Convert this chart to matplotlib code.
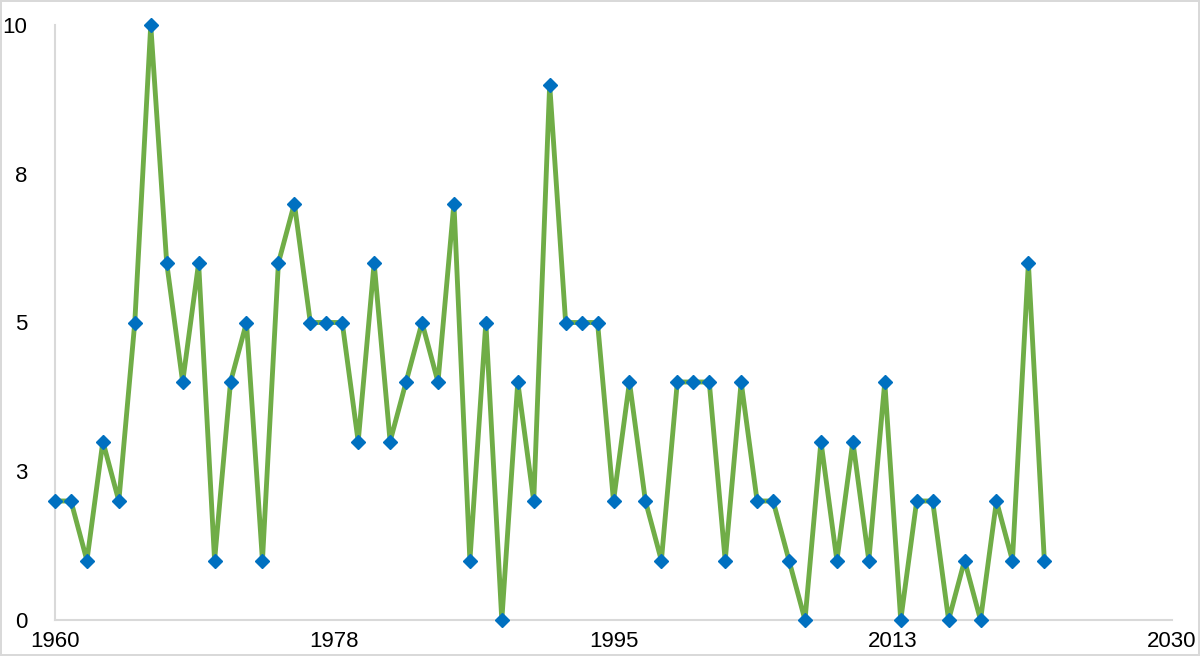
import matplotlib
matplotlib.use("Agg")
import matplotlib.pyplot as plt

years = list(range(1960, 2023))
values = [2, 2, 1, 3, 2, 5, 10, 6, 4, 6,
          1, 4, 5, 1, 6, 7, 5, 5, 5, 3,
          6, 3, 4, 5, 4, 7, 1, 5, 0, 4,
          2, 9, 5, 5, 5, 2, 4, 2, 1, 4,
          4, 4, 1, 4, 2, 2, 1, 0, 3, 1,
          3, 1, 4, 0, 2, 2, 0, 1, 0, 2,
          1, 6, 1]
xticks = [1960, 1977.5, 1995, 2012.5, 2030]
xtick_labels = ["1960", "1978", "1995", "2013", "2030"]
yticks = [0, 2.5, 5, 7.5, 10]
ytick_labels = ["0", "3", "5", "8", "10"]

plt.rcParams['font.family'] = ['Liberation Sans', 'DejaVu Sans']
fig = plt.figure(figsize=(12, 6.56), dpi=100)
fig.patch.set_edgecolor('#d9d9d9')
fig.patch.set_linewidth(1.5)
ax = fig.add_axes([55/1200, 1-620/656, (1172-55)/1200, (620-25)/656])
ax.plot(years, values, color='#70AD47', linewidth=3.5, marker='D',
        markersize=7, markerfacecolor='#0070C0', markeredgecolor='#0070C0',
        zorder=3, clip_on=False)
ax.set_xlim(1960, 2030)
ax.set_ylim(0, 10)
ax.set_xticks(xticks)
ax.set_xticklabels(xtick_labels)
ax.set_yticks(yticks)
ax.set_yticklabels(ytick_labels)
ax.tick_params(axis='both', length=0, labelsize=16, colors='black')
ax.tick_params(axis='y', pad=20)
ax.tick_params(axis='x', pad=8)
for s in ['top', 'right']:
    ax.spines[s].set_visible(False)
for s in ['left', 'bottom']:
    ax.spines[s].set_color('#d9d9d9')
    ax.spines[s].set_linewidth(1.5)
fig.savefig('out.png', dpi=100)
